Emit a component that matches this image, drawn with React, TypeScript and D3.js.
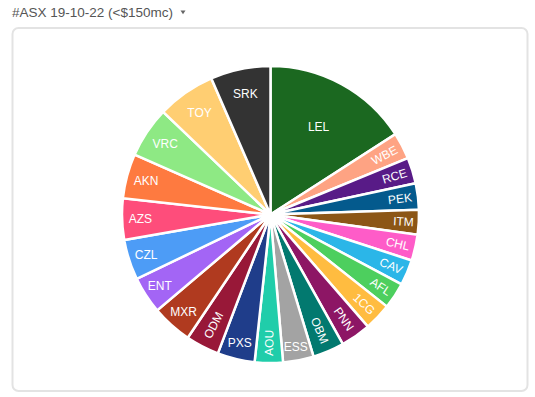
import React, { useMemo } from "react";
import * as d3 from "d3";

// ---- data (share of the pie, %), clockwise from 12 o'clock ----
const tickers = [
  "LEL", "WBE", "RCE", "PEK", "ITM", "CHL", "CAV", "AFL", "1CG", "PNN", "OBM", "ESS",
  "AOU", "PXS", "ODM", "MXR", "ENT", "CZL", "AZS", "AKN", "VRC", "TOY", "SRK",
];
const shares = [
  15.9, 2.9, 2.83, 2.86, 2.69, 2.83, 2.78, 2.86, 2.97, 3.28, 3.42, 3.33,
  3.06, 4.06, 3.64, 4.42, 4.03, 4.39, 4.5, 4.86, 5.53, 6.33, 6.53,
];
const sliceColors = [
  "#1b6820", "#fea383", "#581b87", "#045a8d", "#8c5616", "#fe5cc8", "#2bb6e8", "#4dcf5e",
  "#ffbc40", "#8d1665", "#02796f", "#a3a3a3", "#20cdaa", "#1f3d8a", "#981838", "#b03a1f",
  "#a365f5", "#4d9cf6", "#fe4d7b", "#fe7a40", "#8ee984", "#ffce72", "#333333",
];
const chartTitle = "#ASX 19-10-22 (<$150mc)";

// ---- layout ----
const W = 535;
const H = 397;
const CX = 270.5;
const CY = 214.5;
const R = 148.5;
const FONT = "'Liberation Sans', Arial, Helvetica, sans-serif";
const FS = 12;
const BBH = FS * 1.15;
const TEXTPAD = 3;

let ctx: CanvasRenderingContext2D | null = null;
function textWidth(t: string, size: number): number {
  if (!ctx) {
    const c = document.createElement("canvas");
    ctx = c.getContext("2d");
  }
  if (!ctx) return t.length * size * 0.65;
  ctx.font = `${size}px ${FONT}`;
  return ctx.measureText(t).width;
}

function calcRotate(t: number) {
  return ((180 / Math.PI) * t + 720) % 180 - 90;
}

type LT = { scale: number; rCenter: number; rotate: number };

// inside-label placement: horizontal if it fits, else radial / tangential
function labelTransform(w: number, h: number, a0: number, a1: number): LT {
  const half = (a1 - a0) / 2;
  const mid = (a0 + a1) / 2;
  const s0 = Math.sin(half);
  const rIns = Math.min(s0 / (1 + s0), 0.5);
  const hor: LT = { scale: (rIns * R * 2) / Math.hypot(w, h), rCenter: 1 - rIns, rotate: 0 };
  if (hor.scale >= 1) return hor;
  const all: LT[] = [hor];
  const rr = R - 2 * TEXTPAD;
  const maxHalf = (a: number) => {
    const q = a + 1 / (2 * Math.tan(half));
    return rr * Math.min(1 / (Math.sqrt(q * q + 0.5) + q), 1 / (Math.sqrt(a * a + 0.5) + a));
  };
  let a = w / h;
  let s = maxHalf(a);
  all.push({ scale: (s * 2) / h, rCenter: Math.cos(s / rr) - (a * s) / rr, rotate: calcRotate(mid) });
  a = h / w;
  s = maxHalf(a);
  all.push({
    scale: (s * 2) / w,
    rCenter: Math.cos(s / rr) - (a * s) / rr,
    rotate: calcRotate(mid + Math.PI / 2),
  });
  let best = all[0];
  for (const t of all) if (t.scale > best.scale) best = t;
  return best;
}

export default function App() {
  const data = useMemo(
    () => tickers.map((t, i) => ({ ticker: t, value: shares[i], color: sliceColors[i] })),
    []
  );
  const arcs = useMemo(
    () =>
      d3
        .pie<{ ticker: string; value: number; color: string }>()
        .sort(null)
        .value((d) => d.value)
        .startAngle(0)
        .endAngle(2 * Math.PI)(data),
    [data]
  );
  const arcGen = d3
    .arc<d3.PieArcDatum<{ ticker: string; value: number; color: string }>>()
    .innerRadius(0)
    .outerRadius(R);

  return (
    <div style={{ position: "absolute", left: 0, top: 0 }}>
      <svg width={W} height={H} style={{ display: "block", background: "#fff" }}>
        <text x={12} y={16.7} fontFamily={FONT} fontSize={13.5} fill="#555">
          {chartTitle}
        </text>
        <path d="M180.5,10.5 L185.5,10.5 L183,14.2 Z" fill="#666" />
        <rect x={12.5} y={28} width={515} height={363} rx={6} ry={6} fill="#fff" stroke="#e3e3e3" strokeWidth={2} />
        <g transform={`translate(${CX},${CY})`}>
          {arcs.map((a, i) => (
            <path key={i} d={arcGen(a) || ""} fill={a.data.color} stroke="#fff" strokeWidth={2.5} />
          ))}
          {arcs.map((a, i) => {
            const w = textWidth(a.data.ticker, FS);
            const t = labelTransform(w, BBH, a.startAngle, a.endAngle);
            const mid = (a.startAngle + a.endAngle) / 2;
            const x = R * t.rCenter * Math.sin(mid);
            const y = -R * t.rCenter * Math.cos(mid);
            const size = FS * Math.min(1, t.scale);
            return (
              <text
                key={"l" + i}
                transform={`translate(${x},${y}) rotate(${t.rotate})`}
                textAnchor="middle"
                dy="0.35em"
                fontFamily={FONT}
                fontSize={size}
                fill="#fff"
              >
                {a.data.ticker}
              </text>
            );
          })}
        </g>
      </svg>
    </div>
  );
}
